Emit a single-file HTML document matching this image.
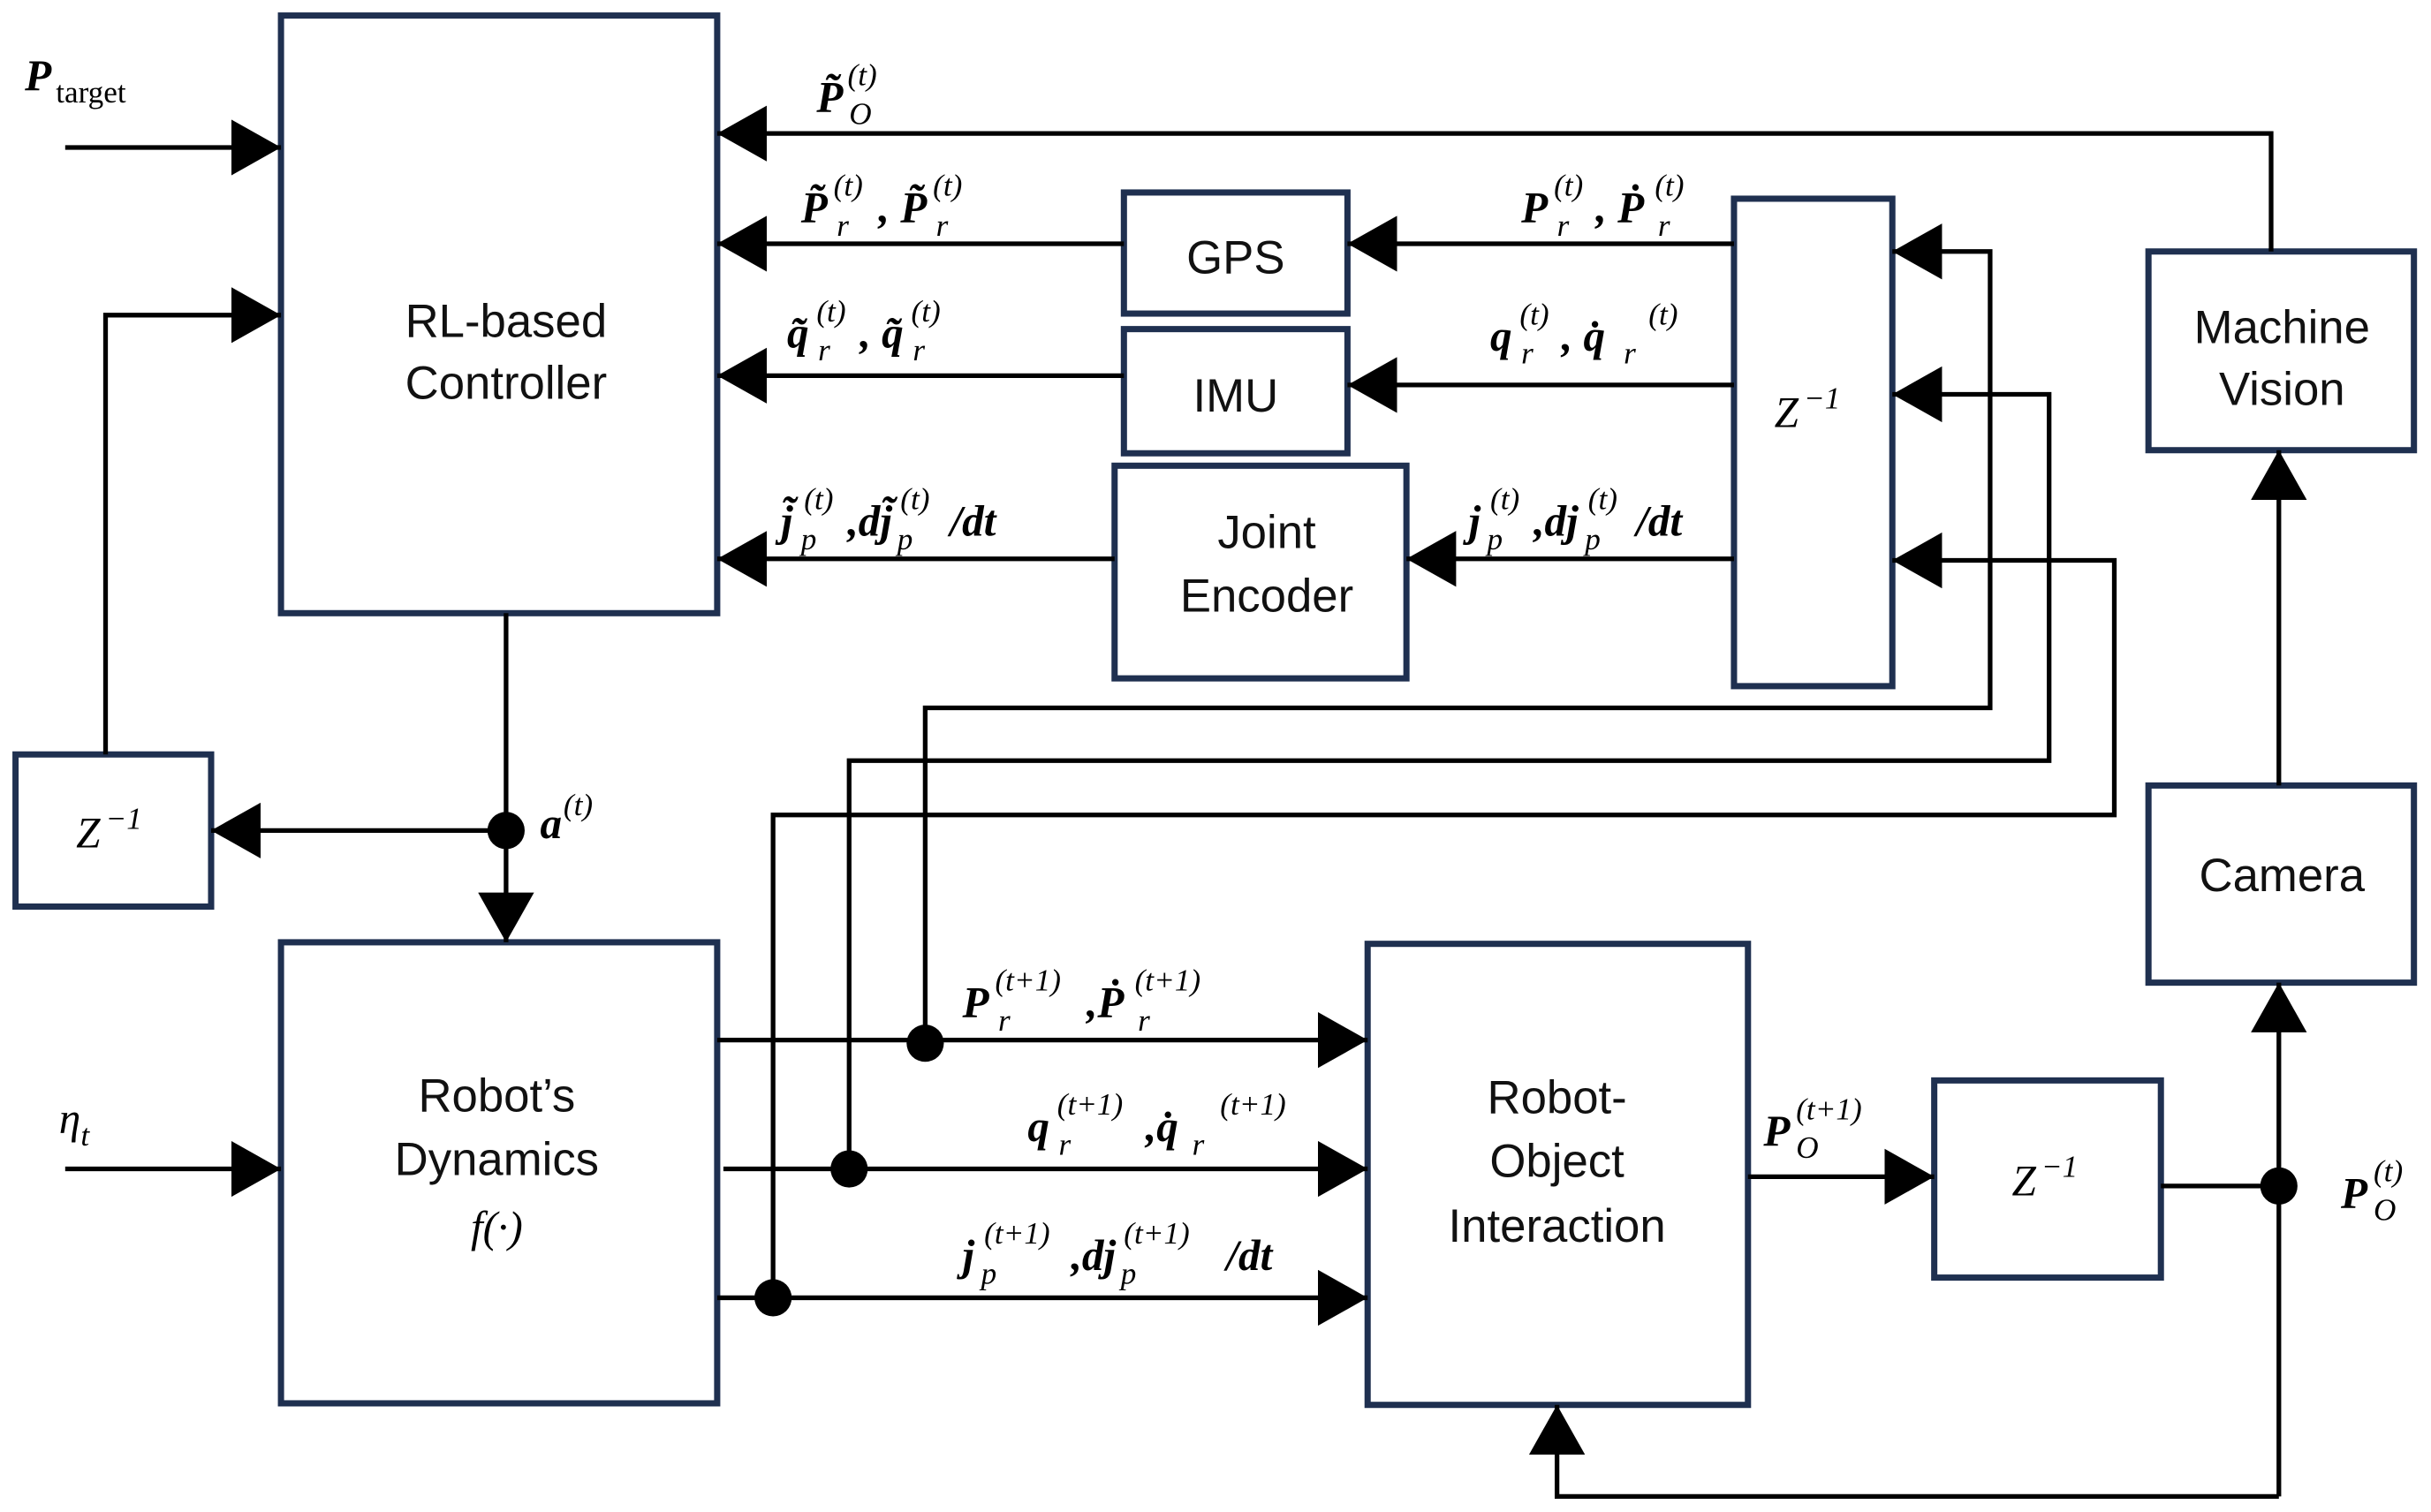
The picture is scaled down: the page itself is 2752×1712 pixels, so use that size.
<!DOCTYPE html>
<html><head><meta charset="utf-8"><style>
html,body{margin:0;padding:0;background:#fff;}
svg{display:block}
.b{fill:none;stroke:#1f3050;stroke-width:4}
.l{fill:none;stroke:#000;stroke-width:3}
.t{font-family:"Liberation Sans",sans-serif;font-size:30px;fill:#111;text-anchor:middle}
.m{font-family:"Liberation Serif",serif;font-style:italic;font-weight:bold;font-size:28px;fill:#000}
.s{font-family:"Liberation Serif",serif;font-style:italic;font-size:20px;fill:#000}
.n{font-family:"Liberation Serif",serif;font-style:italic;font-size:28px;fill:#000}
</style></head><body>
<svg width="2752" height="1712" viewBox="0 0 1566 974" preserveAspectRatio="none" xmlns="http://www.w3.org/2000/svg">
<defs>
<marker id="A" viewBox="0 0 32 36" refX="32" refY="18" markerWidth="32" markerHeight="36" markerUnits="userSpaceOnUse" orient="auto"><path d="M0,0L32,18L0,36z" fill="#000"/></marker></defs>
<rect class="b" x="181" y="10" width="281" height="385"/>
<rect class="b" x="181" y="607" width="281" height="297"/>
<rect class="b" x="724" y="124" width="144" height="78"/>
<rect class="b" x="724" y="212" width="144" height="80"/>
<rect class="b" x="718" y="300" width="188" height="137"/>
<rect class="b" x="1117" y="128" width="102" height="314"/>
<rect class="b" x="1384" y="162" width="171" height="128"/>
<rect class="b" x="1384" y="506" width="171" height="127"/>
<rect class="b" x="10" y="486" width="126" height="98"/>
<rect class="b" x="881" y="608" width="245" height="297"/>
<rect class="b" x="1246" y="696" width="146" height="127"/>
<g class="l" marker-end="url(#A)">
<path d="M42,95H181"/>
<path d="M68,486V203H181"/>
<path d="M326,395V607"/>
<path d="M326,535H136"/>
<path d="M1463,162V86H462"/>
<path d="M724,157H462"/>
<path d="M1117,157H868"/>
<path d="M724,242H462"/>
<path d="M1117,248H868"/>
<path d="M718,360H462"/>
<path d="M1117,360H906"/>
<path d="M596,672V456H1282V162H1219"/>
<path d="M547,753V490H1320V254H1219"/>
<path d="M498,836V525H1362V361H1219"/>
<path d="M462,670H881"/>
<path d="M466,753H881"/>
<path d="M462,836H881"/>
<path d="M42,753H181"/>
<path d="M1126,758H1246"/>
<path d="M1468,964V633"/>
<path d="M1468,506V290"/>
<path d="M1468,964H1003V905"/>
</g>
<path class="l" d="M1392,764H1468"/>
<g fill="#000"><circle cx="326" cy="535" r="12"/><circle cx="596" cy="672" r="12"/><circle cx="547" cy="753" r="12"/><circle cx="498" cy="836" r="12"/><circle cx="1468" cy="764" r="12"/></g>
<text class="t" x="326" y="217">RL-based</text><text class="t" x="326" y="257">Controller</text>
<text class="t" x="320" y="716">Robot’s</text><text class="t" x="320" y="757">Dynamics</text>
<text class="n" x="320" y="800" text-anchor="middle">f(·)</text>
<text class="t" x="796" y="176">GPS</text>
<text class="t" x="796" y="265">IMU</text>
<text class="t" x="816" y="353">Joint</text><text class="t" x="816" y="394">Encoder</text>
<text class="t" x="1470" y="221">Machine</text><text class="t" x="1470" y="261">Vision</text>
<text class="t" x="1470" y="574">Camera</text>
<text class="t" x="1003" y="717">Robot-</text><text class="t" x="1003" y="758">Object</text><text class="t" x="1003" y="800">Interaction</text>
<text class="n" x="1143" y="275">Z</text><text class="s" x="1162" y="263">−1</text>
<text class="n" x="49" y="546">Z</text><text class="s" x="68" y="534">−1</text>
<text class="n" x="1296" y="770">Z</text><text class="s" x="1315" y="758">−1</text>
<text class="m" x="16" y="58">P</text><text class="s" x="36" y="66" style="font-style:normal">target</text>
<text class="m" x="526" y="72">P̃</text><text class="s" x="546" y="55">(t)</text><text class="s" x="547" y="80">O</text>
<text class="m" x="516" y="143">P̃</text><text class="s" x="537" y="126">(t)</text><text class="s" x="539" y="152">r</text><text class="m" x="566" y="143">,</text>
<text class="m" x="580" y="143">P̃</text><text class="s" x="601" y="126">(t)</text><text class="s" x="603" y="152">r</text>
<text class="m" x="507" y="224">q̃</text><text class="s" x="526" y="207">(t)</text><text class="s" x="527" y="232">r</text><text class="m" x="554" y="224">,</text>
<text class="m" x="568" y="224">q̃</text><text class="s" x="587" y="207">(t)</text><text class="s" x="588" y="232">r</text>
<text class="m" x="503" y="345">j̃</text><text class="s" x="518" y="328">(t)</text><text class="s" x="516" y="354">p</text>
<text class="m" x="546" y="345">,dj̃</text><text class="s" x="580" y="328">(t)</text><text class="s" x="578" y="354">p</text><text class="m" x="612" y="345">/dt</text>
<text class="m" x="980" y="143">P</text><text class="s" x="1001" y="126">(t)</text><text class="s" x="1003" y="152">r</text><text class="m" x="1028" y="143">, Ṗ</text><text class="s" x="1066" y="126">(t)</text><text class="s" x="1068" y="152">r</text>
<text class="m" x="960" y="226">q</text><text class="s" x="979" y="209">(t)</text><text class="s" x="980" y="234">r</text><text class="m" x="1006" y="226">,  q̇</text><text class="s" x="1046" y="234">r</text><text class="s" x="1062" y="209">(t)</text>
<text class="m" x="946" y="345">j</text><text class="s" x="960" y="328">(t)</text><text class="s" x="958" y="354">p</text>
<text class="m" x="988" y="345">,dj</text><text class="s" x="1023" y="328">(t)</text><text class="s" x="1021" y="354">p</text><text class="m" x="1054" y="345">/dt</text>
<text class="m" x="348" y="540">a</text><text class="s" x="363" y="525">(t)</text>
<text class="m" x="620" y="655">P</text><text class="s" x="641" y="638">(t+1)</text><text class="s" x="643" y="664">r</text>
<text class="m" x="700" y="655">,Ṗ</text><text class="s" x="731" y="638">(t+1)</text><text class="s" x="733" y="664">r</text>
<text class="m" x="662" y="735">q</text><text class="s" x="681" y="718">(t+1)</text><text class="s" x="682" y="744">r</text>
<text class="m" x="738" y="735">,q̇</text><text class="s" x="768" y="744">r</text><text class="s" x="786" y="718">(t+1)</text>
<text class="m" x="620" y="818">j</text><text class="s" x="634" y="801">(t+1)</text><text class="s" x="632" y="827">p</text>
<text class="m" x="690" y="818">,dj</text><text class="s" x="724" y="801">(t+1)</text><text class="s" x="722" y="827">p</text><text class="m" x="790" y="818">/dt</text>
<text class="m" x="1136" y="738">P</text><text class="s" x="1157" y="721">(t+1)</text><text class="s" x="1157" y="746">O</text>
<text class="m" x="1508" y="778">P</text><text class="s" x="1529" y="761">(t)</text><text class="s" x="1529" y="786">O</text>
<text class="n" x="38" y="730">η</text><text class="s" x="52" y="738">t</text>
</svg>
</body></html>
